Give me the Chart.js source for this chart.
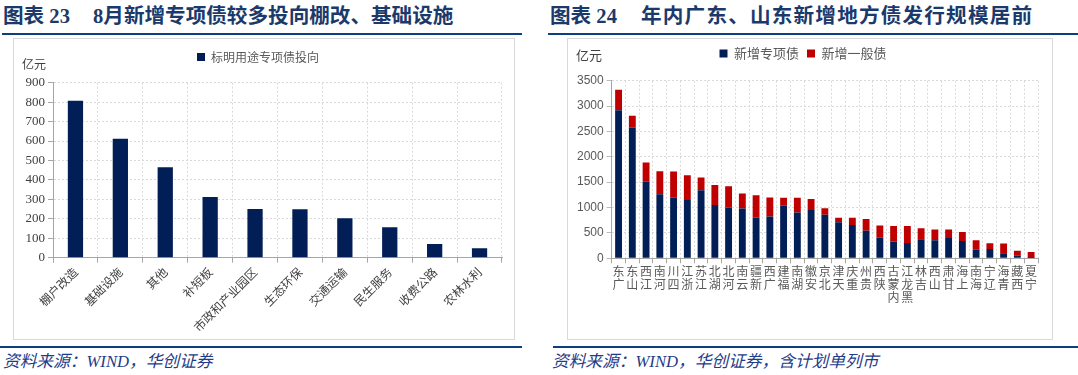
<!DOCTYPE html>
<html><head><meta charset="utf-8">
<script src="https://cdn.jsdelivr.net/npm/chart.js@4.4.1/dist/chart.umd.min.js"></script>
<style>
html,body{margin:0;padding:0;background:#fff;}
body{width:1078px;height:375px;position:relative;overflow:hidden;}
.title{position:absolute;top:4px;font-family:"Liberation Serif","Noto Sans CJK SC";font-weight:bold;font-size:20.6px;color:#1B3A6B;white-space:nowrap;line-height:24px;}
.rule{position:absolute;height:2px;background:#0E3E7E;}
.box{position:absolute;top:38px;height:300px;border:1px solid #D9D9D9;}
.unit{position:absolute;font-family:"Noto Sans CJK SC";color:#404040;white-space:nowrap;}
.src{position:absolute;top:352px;font-family:"Liberation Serif","Noto Sans CJK SC";font-style:italic;font-size:16.7px;color:#1F3C88;line-height:20px;white-space:nowrap;}
canvas{position:absolute;}
</style></head>
<body>
<div class="title" style="left:3px">图表 23</div>
<div class="title" style="left:93px">8月新增专项债较多投向棚改、基础设施</div>
<div class="title" style="left:550px">图表 24</div>
<div class="title" style="left:641px;letter-spacing:1.2px">年内广东、山东新增地方债发行规模居前</div>
<div class="rule" style="left:2px;width:520px;top:33px"></div>
<div class="rule" style="left:548px;width:530px;top:33px"></div>
<div class="box" style="left:13px;width:500px"></div>
<div class="box" style="left:567px;width:484px"></div>
<canvas id="c1" width="500" height="300" style="left:14px;top:39px"></canvas>
<canvas id="c2" width="484" height="300" style="left:568px;top:39px"></canvas>
<div class="unit" style="left:22px;top:57px;font-size:12px;line-height:14px">亿元</div>
<div class="unit" style="left:576px;top:47px;font-size:13px;line-height:16px">亿元</div>
<div class="rule" style="left:0px;width:522px;top:346px"></div>
<div class="rule" style="left:553px;width:525px;top:346px"></div>
<div class="src" style="left:3px">资料来源：WIND，华创证券</div>
<div class="src" style="left:552px">资料来源：WIND，华创证券，含计划单列市</div>
<script>
// ---- Data: chart 23 ----
const useCategories = ['棚户改造','基础设施','其他','补短板','市政和产业园区','生态环保','交通运输','民生服务','收费公路','农林水利'];
const useValues = [807, 612, 465, 312, 250, 249, 203, 156, 70, 48];
const useSeriesName = '标明用途专项债投向';
const useYTicks = [0,100,200,300,400,500,600,700,800,900];

// ---- Data: chart 24 ----
const provinces = ['广东','山东','江西','河南','四川','浙江','江苏','湖北','河北','云南','新疆','广西','福建','湖南','安徽','北京','天津','重庆','贵州','陕西','内蒙古','黑龙江','吉林','山西','甘肃','上海','海南','辽宁','青海','西藏','宁夏'];
const specialBonds = [2920,2580,1510,1260,1200,1150,1340,1050,995,980,805,825,1035,905,950,860,710,655,545,405,330,300,375,355,400,340,170,185,100,50,5];
const generalBonds = [400,230,380,455,510,485,250,395,425,295,440,375,160,290,220,125,90,145,230,240,305,335,215,215,170,180,185,110,190,100,120];
const seriesNames = ['新增专项债','新增一般债'];
const provYTicks = [0,500,1000,1500,2000,2500,3000,3500];

const NAVY = '#021E56', RED = '#C00000';

function legendHeight(h){
  return {
    id: 'legendHeightFix',
    beforeUpdate(chart){
      const lg = chart.legend;
      if (lg && !lg._fixed){
        const f = lg.fit;
        lg.fit = function(){ f.call(this); this.height = h; };
        lg._fixed = true;
      }
    }
  };
}

function axisCommon(){
  return {
    grid: {color:'#D9D9D9', lineWidth:1, tickLength:5, tickColor:'#A6A6A6', tickBorderDash:[1,0]},
    border: {color:'#A6A6A6', width:1, dash:[2,2]}
  };
}
const plainNum = v => String(v);

// Chart 23
new Chart(document.getElementById('c1'), {
  type: 'bar',
  data: {
    labels: useCategories,
    datasets: [{label: useSeriesName, data: useValues, backgroundColor: NAVY, barPercentage: 0.34, categoryPercentage: 1}]
  },
  options: {
    responsive: false, animation: false,
    layout: {padding: {left:0, right:12, top:0, bottom:0}},
    plugins: {
      legend: {display:true, position:'top', labels:{boxWidth:8, boxHeight:8, padding:12, color:'#595959', font:{family:'"Noto Sans CJK SC"', size:12}}},
      tooltip: {enabled:false}
    },
    scales: {
      x: Object.assign(axisCommon(), {
        ticks: {minRotation:45, maxRotation:45, autoSkip:false, padding:2, color:'#404040', font:{family:'"Noto Sans CJK SC"', size:12}},
        afterFit(s){ s.height = 81.3; }
      }),
      y: Object.assign(axisCommon(), {
        min: useYTicks[0], max: useYTicks[useYTicks.length-1],
        ticks: {stepSize: useYTicks[1]-useYTicks[0], padding:3, color:'#404040', font:{family:'"Liberation Serif"', size:13}, callback: plainNum},
        afterFit(s){ s.width = 39; }
      })
    }
  },
  plugins: [legendHeight(43.7)]
});

// Chart 24
new Chart(document.getElementById('c2'), {
  type: 'bar',
  data: {
    labels: provinces.map(p => p.split('').reverse()),
    datasets: [
      {label: seriesNames[0], data: specialBonds, backgroundColor: NAVY, barPercentage: 0.5, categoryPercentage: 1},
      {label: seriesNames[1], data: generalBonds, backgroundColor: RED, barPercentage: 0.5, categoryPercentage: 1}
    ]
  },
  options: {
    responsive: false, animation: false,
    layout: {padding: {left:0, right:14, top:0, bottom:0}},
    plugins: {
      legend: {display:true, position:'top', labels:{boxWidth:8, boxHeight:8, padding:8, color:'#595959', font:{family:'"Noto Sans CJK SC"', size:13}}},
      tooltip: {enabled:false}
    },
    scales: {
      x: Object.assign(axisCommon(), {
        stacked: true,
        ticks: {minRotation:0, maxRotation:0, autoSkip:false, padding:2, color:'#595959', font:{family:'"Noto Sans CJK SC"', size:12, lineHeight:1.08}},
        afterFit(s){ s.height = 80.7; }
      }),
      y: Object.assign(axisCommon(), {
        stacked: true,
        min: provYTicks[0], max: provYTicks[provYTicks.length-1],
        ticks: {stepSize: provYTicks[1]-provYTicks[0], padding:3, color:'#595959', font:{family:'"Liberation Sans"', size:12}, callback: plainNum},
        afterFit(s){ s.width = 43.7; }
      })
    }
  },
  plugins: [legendHeight(41.7)]
});
</script>
</body></html>
